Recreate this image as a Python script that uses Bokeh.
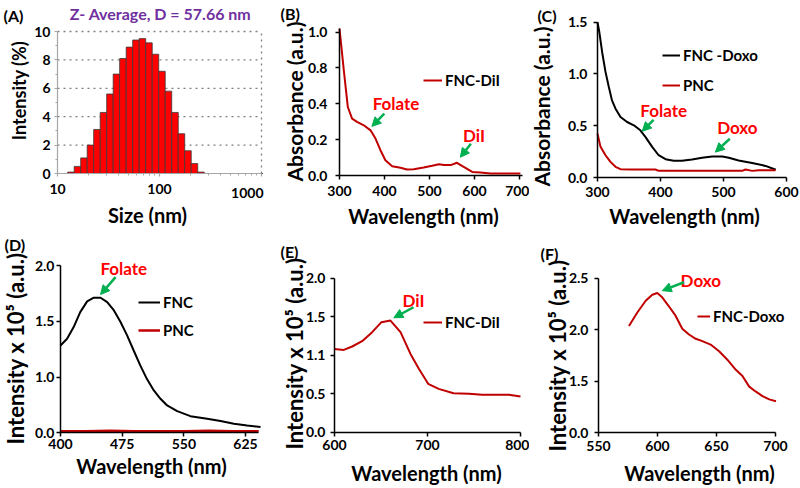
import numpy as np
from bokeh.plotting import figure
from bokeh.layouts import column, row
from bokeh.models import (FixedTicker, Range1d, Label, Arrow, NormalHead,
                          Legend, LegendItem)
from bokeh.embed import file_html
from bokeh.resources import INLINE

FONT = "Lato"
LINE_RED = "#C00000"
TEXT_RED = "#FF0000"
GREEN = "#00B050"
PURPLE = "#7030A0"

# ---------------- data ----------------
# (A) DLS size distribution
dls_size_nm = [13.54, 15.69, 18.17, 21.04, 24.36, 28.21, 32.67, 37.84, 43.82, 50.75,
               58.77, 68.06, 78.82, 91.28, 105.7, 122.4, 141.8, 164.2, 190.1, 220.2,
               255.0, 295.3, 342.0, 396.1, 458.7, 531.2, 615.1, 712.4, 825.0, 955.4]
dls_intensity = [0.1, 0.5, 1.1, 2.0, 3.1, 4.3, 5.6, 7.0, 8.1, 8.9,
                 9.4, 9.5, 9.2, 8.4, 7.2, 5.8, 4.3, 2.8, 1.6, 0.7,
                 0.1, 0, 0, 0, 0, 0, 0, 0, 0, 0]
a_x_ticks = [10, 100, 1000]
a_x_labels = ["10", "100", "1000"]
a_y_ticks = [0, 2, 4, 6, 8, 10]
a_y_labels = ["0", "2", "4", "6", "8", "10"]

# (B) absorbance FNC-DiI (axis drawn with uneven labels)
b_wl = [300, 309.6, 318.5, 328, 339, 354, 369, 380, 391, 402, 417, 435.6, 450, 465,
        487, 506, 521, 532, 547, 561, 576, 595, 613, 635.6, 672.6, 702]
b_abs = [0.819, 0.587, 0.382, 0.317, 0.299, 0.280, 0.252, 0.206, 0.141, 0.085, 0.052,
         0.043, 0.033, 0.035, 0.045, 0.054, 0.063, 0.058, 0.058, 0.071, 0.048, 0.020,
         0.017, 0.011, 0.011, 0.011]
b_x_ticks = [300, 400, 500, 600, 700]
b_x_labels = ["300", "400", "500", "600", "700"]
b_y_ticks = [0.0, 0.2, 0.4, 0.6, 0.8]
b_y_labels = ["0.0", "0.2", "0.4", "0.8", "1.0"]

# (C) absorbance FNC-Doxo and PNC
c_fnc_wl = [300, 303, 307.4, 312.7, 318, 323, 328.6, 336.5, 347, 357.7, 368, 376, 386.8,
            397, 408, 421, 434, 450, 466, 482, 498, 508.5, 524, 545.5, 566.7, 583]
c_fnc_abs = [1.5, 1.40, 1.21, 1.02, 0.874, 0.745, 0.665, 0.585, 0.536, 0.504, 0.456, 0.392,
             0.296, 0.215, 0.177, 0.161, 0.161, 0.173, 0.19, 0.202, 0.202, 0.19, 0.164,
             0.141, 0.112, 0.075]
c_pnc_wl = [300, 304.8, 312.7, 320.6, 328.6, 336.5, 355, 392, 397, 455.6, 529.6, 535,
            545.5, 556, 582.5]
c_pnc_abs = [0.424, 0.296, 0.215, 0.151, 0.103, 0.080, 0.077, 0.077, 0.064, 0.064, 0.064,
             0.077, 0.064, 0.071, 0.071]
c_x_ticks = [300, 400, 500, 600]
c_x_labels = ["300", "400", "500", "600"]
c_y_ticks = [0.0, 0.5, 1.0, 1.5]
c_y_labels = ["0.0", "0.5", "1.0", "1.5"]

# (D) fluorescence FNC and PNC (axis drawn with uneven labels)
d_fnc_wl = [400, 408, 416, 424, 432.4, 440.5, 448.7, 456.8, 465, 473, 481, 489, 497, 505,
            513.5, 521.6, 529.7, 541.9, 558, 578.4, 594.6, 610.9, 627, 643.3]
d_fnc_int = [1.283, 1.343, 1.448, 1.582, 1.678, 1.711, 1.711, 1.672, 1.597, 1.493, 1.373,
             1.238, 1.104, 0.984, 0.880, 0.805, 0.745, 0.694, 0.649, 0.626, 0.605, 0.581,
             0.566, 0.551]
d_pnc_wl = [400, 430, 460, 490, 520, 550, 580, 610, 641]
d_pnc_int = [0.515, 0.515, 0.518, 0.515, 0.515, 0.515, 0.518, 0.515, 0.515]
d_x_ticks = [400, 475, 550, 625]
d_x_labels = ["400", "475", "550", "625"]
d_y_ticks = [0.5, 1.0, 1.5, 2.0]
d_y_labels = ["0.0", "1.0", "1.5", "2.0"]

# (E) fluorescence FNC-DiI (axis drawn with uneven labels)
e_wl = [600, 610, 619, 629.7, 640.5, 650.5, 660.2, 671, 681.7, 690.7, 700.7, 712, 728,
        744.5, 758.8, 773, 787.5, 800]
e_int = [1.082, 1.069, 1.113, 1.182, 1.299, 1.429, 1.450, 1.299, 1.017, 0.823, 0.628,
         0.563, 0.506, 0.498, 0.485, 0.485, 0.485, 0.463]
e_x_ticks = [600, 700, 800]
e_x_labels = ["600", "700", "800"]
e_y_ticks = [0.0, 0.5, 1.0, 1.5, 2.0]
e_y_labels = ["0.0", "0.5", "1.1", "1.5", "2.0"]

# (F) fluorescence FNC-Doxo (axis drawn with uneven labels)
f_wl = [575.8, 582.9, 590, 595.6, 599.8, 604, 609.8, 615.4, 621, 626.7, 632.4, 638, 645,
        652.2, 659.2, 666.4, 672, 677.7, 683.4, 689, 694.7, 700.4]
f_int = [2.036, 2.167, 2.281, 2.34, 2.356, 2.314, 2.225, 2.134, 2.01, 1.954, 1.912, 1.889,
         1.856, 1.791, 1.709, 1.611, 1.552, 1.448, 1.399, 1.356, 1.324, 1.307]
f_x_ticks = [550, 600, 650, 700]
f_x_labels = ["550", "600", "650", "700"]
f_y_ticks = [1.0, 1.5, 2.0, 2.5]
f_y_labels = ["0.0", "1.5", "2.0", "2.5"]


# ---------------- helpers ----------------
class Panel:
    """A figure whose frame fills its canvas; axes are pinned at data positions."""

    def __init__(self, canvas, xpix, xval, ypix, yval, log=False):
        X0, Y0, X1, Y1 = canvas
        self.X0, self.Y0, self.X1, self.Y1 = canvas
        f = np.log10 if log else (lambda v: v)
        a, b = f(xval[0]), f(xval[1])
        kx = (xpix[1] - xpix[0]) / (b - a)
        xs, xe = a - (xpix[0] - X0) / kx, b + (X1 - xpix[1]) / kx
        if log:
            xs, xe = 10 ** xs, 10 ** xe
        ky = (ypix[0] - ypix[1]) / (yval[1] - yval[0])
        ys = yval[0] - (Y1 - ypix[0]) / ky
        ye = yval[1] + (ypix[1] - Y0) / ky
        p = figure(width=X1 - X0, height=Y1 - Y0, x_range=Range1d(xs, xe),
                   y_range=Range1d(ys, ye), x_axis_type="log" if log else "linear",
                   min_border=0, title=None, output_backend="svg",
                   toolbar_location=None)
        p.outline_line_color = None
        p.grid.visible = False
        p.background_fill_color = "white"
        p.border_fill_color = "white"
        self.p = p

    def axis(self, which, ticks, labels, bounds, loc, tick_standoff, color="black",
             tick_out=4, minor=None, width=1.5):
        ax = self.p.xaxis[0] if which == "x" else self.p.yaxis[0]
        ax.fixed_location = loc
        ax.bounds = bounds
        ax.ticker = FixedTicker(ticks=ticks, minor_ticks=minor or [])
        ax.major_label_overrides = dict(zip(ticks, labels))
        ax.major_label_text_font = FONT
        ax.major_label_text_font_style = "bold"
        ax.major_label_text_font_size = "14px"
        ax.major_label_text_color = "black"
        ax.major_label_standoff = tick_standoff
        ax.axis_line_color = color
        ax.axis_line_width = width
        ax.major_tick_line_color = color
        ax.major_tick_line_width = width
        ax.major_tick_out = tick_out
        ax.major_tick_in = 0
        if minor:
            ax.minor_tick_line_color = color
            ax.minor_tick_out = 2
            ax.minor_tick_in = 0
        else:
            ax.minor_tick_line_color = None

    def text(self, text, px, py, size="16px", color="black", align="left",
             angle=0.0, style="bold"):
        self.p.add_layout(Label(x=px - self.X0, y=self.Y1 - py, x_units="screen",
                                y_units="screen", text=text, angle=angle,
                                text_font=FONT, text_font_style=style,
                                text_font_size=size, text_color=color,
                                text_align=align, text_baseline="middle"))

    def xlabel(self, text, px, py, size="20px"):
        self.text(text, px, py, size=size, align="center")

    def ylabel(self, text, px, py, size="21px"):
        self.text(text, px, py, size=size, align="center", angle=np.pi / 2)

    def note(self, text, x, y, ax0, ay0, ax1, ay1):
        self.p.add_layout(Label(x=x, y=y, text=text, text_font=FONT,
                                text_font_style="bold", text_font_size="17px",
                                text_color=TEXT_RED, text_align="center",
                                text_baseline="middle"))
        self.p.add_layout(Arrow(end=NormalHead(size=9, fill_color=GREEN,
                                               line_color=GREEN),
                                x_start=ax0, y_start=ay0, x_end=ax1, y_end=ay1,
                                line_color=GREEN, line_width=2.5))

    def legend(self, items, glyph_left, box_bottom, glyph_w, spacing):
        leg = Legend(items=[LegendItem(label=l, renderers=[r]) for l, r in items],
                     location=(glyph_left - self.X0, self.Y1 - box_bottom),
                     border_line_color=None, background_fill_alpha=0,
                     padding=0, margin=0, spacing=spacing, glyph_width=glyph_w,
                     glyph_height=20, label_height=20, label_standoff=3,
                     label_text_font=FONT, label_text_font_style="bold",
                     label_text_font_size="15px", label_text_color="black")
        self.p.add_layout(leg)


# ---------------- (A) ----------------
A = Panel((0, 0, 268, 232), (57, 261), (a_x_ticks[0], a_x_ticks[-1]),
          (173, 31), (a_y_ticks[0], a_y_ticks[-1]), log=True)
pA = A.p
grid_y = a_y_ticks[1:]
pA.segment(x0=[a_x_ticks[0]] * len(grid_y), x1=[a_x_ticks[-1]] * len(grid_y),
           y0=grid_y, y1=grid_y, line_color="#7f7f7f", line_dash="2 4", line_width=1.3)
pA.segment(x0=[a_x_ticks[-1]], x1=[a_x_ticks[-1]], y0=[a_y_ticks[0]], y1=[a_y_ticks[-1]],
           line_color="#7f7f7f", line_dash="2 4", line_width=1.3)
ratio = np.sqrt(dls_size_nm[1] / dls_size_nm[0])
sz = np.array(dls_size_nm)
pA.quad(left=sz / ratio, right=sz * ratio, bottom=0, top=dls_intensity,
        fill_color="#FF0000", line_color="#3a3a3a", line_width=0.8)
A.axis("x", a_x_ticks, a_x_labels[:2] + [""], (10, 1000), 0, 7, color="#a6a6a6",
       tick_out=3, width=1.2,
       minor=[20, 30, 40, 50, 60, 70, 80, 90, 200, 300, 400, 500, 600, 700, 800, 900])
A.axis("y", a_y_ticks, a_y_labels, (0, 10), 10, 4, color="#a6a6a6", tick_out=3,
       width=1.2, minor=[1, 3, 5, 7, 9])
A.text(a_x_labels[-1], 263, 192, size="14px", align="right")
A.xlabel("Size (nm)", 147, 214)
A.ylabel("Intensity (%)", 18.5, 90, size="18px")
A.text("(A)", 3, 15)
A.text("Z- Average, D = 57.66 nm", 160, 13, color=PURPLE, align="center")

# ---------------- (B) ----------------
B = Panel((268, 0, 529, 232), (339, 519), (300, 700), (175, 31.6), (0.0, 0.8))
rB = B.p.line(b_wl, b_abs, line_color=LINE_RED, line_width=2)
B.axis("x", b_x_ticks, b_x_labels, (300, 706), 0, 6)
B.axis("y", b_y_ticks, b_y_labels, (0, 0.818), 300, 8)
B.xlabel("Wavelength (nm)", 423, 215)
B.ylabel("Absorbance (a.u.)", 294, 101)
B.legend([("FNC-DiI", rB)], 423, 90, 19, 10)
B.note("Folate", 425.5, 0.402, 399.6, 0.345, 372, 0.274)
B.note("DiI", 599, 0.223, 592, 0.177, 568.5, 0.102)
B.text("(B)", 280, 12.5)

# ---------------- (C) ----------------
C = Panel((529, 0, 800, 232), (597, 786), (300, 600), (177, 21.7), (0.0, 1.5))
rC1 = C.p.line(c_fnc_wl, c_fnc_abs, line_color="black", line_width=2)
rC2 = C.p.line(c_pnc_wl, c_pnc_abs, line_color=LINE_RED, line_width=2)
C.axis("x", c_x_ticks, c_x_labels, (300, 600), 0, 5)
C.axis("y", c_y_ticks, c_y_labels, (0, 1.5), 300, 6)
C.xlabel("Wavelength (nm)", 684, 215)
C.ylabel("Absorbance (a.u.)", 541, 106)
C.legend([("FNC -Doxo", rC1), ("PNC", rC2)], 662, 95, 18, 10)
C.note("Folate", 405, 0.647, 389, 0.557, 371, 0.447)
C.note("Doxo", 522, 0.48, 510, 0.374, 487, 0.245)
C.text("(C)", 537, 15)

# ---------------- (D) ----------------
D = Panel((0, 232, 268, 488), (60, 245), (400, 625), (432.3, 265), (0.5, 2.0))
rD1 = D.p.line(d_fnc_wl, d_fnc_int, line_color="black", line_width=2)
rD2 = D.p.line(d_pnc_wl, d_pnc_int, line_color=LINE_RED, line_width=2.5)
D.axis("x", d_x_ticks, d_x_labels, (400, 641), 0.5, 2)
D.axis("y", d_y_ticks, d_y_labels, (0.5, 2.0), 400, 2)
D.xlabel("Wavelength (nm)", 151, 465)
D.ylabel("Intensity x 10\u2075 (a.u.)", 15, 348, size="22px")
D.legend([("FNC", rD1), ("PNC", rD2)], 138, 340, 22, 8)
D.note("Folate", 477, 1.971, 467, 1.896, 448.7, 1.740)
D.text("(D)", 4, 244)

# ---------------- (E) ----------------
E = Panel((268, 232, 529, 488), (334, 520), (600, 800), (431.7, 277.7), (0.0, 2.0))
rE = E.p.line(e_wl, e_int, line_color=LINE_RED, line_width=2)
E.axis("x", e_x_ticks, e_x_labels, (600, 800), 0, 4)
E.axis("y", e_y_ticks, e_y_labels, (0, 2.0), 600, 5)
E.xlabel("Wavelength (nm)", 426, 472)
E.ylabel("Intensity x 10\u2075 (a.u.)", 294, 353, size="22px")
E.legend([("FNC-DiI", rE)], 423, 331.7, 19, 10)
E.note("DiI", 685, 1.71, 685, 1.623, 663.8, 1.486)
E.text("(E)", 280, 251)

# ---------------- (F) ----------------
F = Panel((529, 232, 800, 488), (598, 775), (550, 700), (432.3, 277.7), (1.0, 2.5))
rF = F.p.line(f_wl, f_int, line_color=LINE_RED, line_width=2)
F.axis("x", f_x_ticks, f_x_labels, (550, 700), 1.0, 4)
F.axis("y", f_y_ticks, f_y_labels, (1.0, 2.5), 550, 6)
F.xlabel("Wavelength (nm)", 699, 472)
F.ylabel("Intensity x 10\u2075 (a.u.)", 557, 355, size="22px")
F.legend([("FNC-Doxo", rF)], 697, 326, 13, 10)
F.note("Doxo", 636.7, 2.476, 622.5, 2.461, 604, 2.379)
F.text("(F)", 540, 253)

layout = column(row(A.p, B.p, C.p, spacing=0), row(D.p, E.p, F.p, spacing=0), spacing=0)
open("out.html", "w").write(file_html(layout, INLINE))
